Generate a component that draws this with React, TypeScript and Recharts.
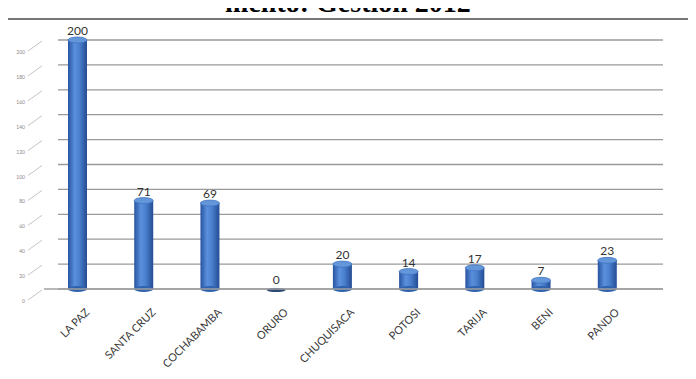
import { BarChart, Bar, XAxis, YAxis, CartesianGrid, LabelList } from "recharts";

const DEPARTAMENTOS = ["LA PAZ", "SANTA CRUZ", "COCHABAMBA", "ORURO", "CHUQUISACA", "POTOSI", "TARIJA", "BENI", "PANDO"];
const CASOS = [200, 71, 69, 0, 20, 14, 17, 7, 23];
const Y_TICKS = [0, 20, 40, 60, 80, 100, 120, 140, 160, 180, 200];

const data = DEPARTAMENTOS.map((d, i) => ({ name: d, value: CASOS[i] }));

// cylinder-ish bar like the old excel 3d look
function Cylinder(props: any) {
  const { x, y, width, height } = props;
  const cx = x + width / 2;
  const ry = 3;
  if (!height || height <= 0) {
    return <ellipse cx={cx} cy={y + 1} rx={width / 2} ry={2} fill="#2d4a75" />;
  }
  return (
    <g>
      <rect x={x} y={y} width={width} height={height} fill="url(#cyl)" />
      <ellipse cx={cx} cy={y + height} rx={width / 2} ry={ry} fill="#2f62ad" />
      <ellipse cx={cx} cy={y} rx={width / 2} ry={ry} fill="#6496da" stroke="#3f74c2" strokeWidth={0.8} />
    </g>
  );
}

function YTick(props: any) {
  const { x, y, payload } = props;
  return (
    <g>
      <line x1={x - 8} y1={y + 11} x2={x + 6} y2={y + 1} stroke="#b5b5b5" strokeWidth={0.8} />
      <text x={x - 11} y={y + 14} textAnchor="end" fontSize={5} fill="#888">
        {payload.value}
      </text>
    </g>
  );
}

function XTick(props: any) {
  const { x, y, payload } = props;
  const tx = x + 13;
  const ty = y + 16;
  return (
    <text x={tx} y={ty} textAnchor="end" fontSize={11} fill="#3a3a3a" transform={`rotate(-45 ${tx} ${ty})`}>
      {payload.value}
    </text>
  );
}

export default function App() {
  return (
    <div style={{ position: "relative", width: 696, height: 379, margin: -8, overflow: "hidden", background: "#fff" }}>
      <div
        style={{
          position: "absolute",
          left: 5,
          top: 18,
          width: 700,
          height: 380,
          borderLeft: "2px solid #8a8a8a",
          borderTop: "2px solid #777",
          boxShadow: "1px 1px 2px #ccc",
        }}
      />
      <div style={{ position: "absolute", left: 0, top: 0, fontFamily: "Lato, sans-serif" }}>
        <BarChart width={696} height={379} data={data} margin={{ top: 40, right: 33, bottom: 0, left: 0 }}>
          <defs>
            <linearGradient id="cyl" x1="0" y1="0" x2="1" y2="0">
              <stop offset="0%" stopColor="#2853a0" />
              <stop offset="35%" stopColor="#5a90dc" />
              <stop offset="60%" stopColor="#4a80ce" />
              <stop offset="100%" stopColor="#244c93" />
            </linearGradient>
          </defs>
          <CartesianGrid vertical={false} stroke="#9a9a9a" strokeWidth={1.3} x={58} width={605} />
          <XAxis
            dataKey="name"
            interval={0}
            tick={<XTick />}
            tickLine={false}
            axisLine={{ stroke: "#a0a0a0", strokeWidth: 1.5 }}
            height={90}
            padding={{ left: 0, right: 23 }}
          />
          <YAxis
            domain={[0, 200]}
            ticks={Y_TICKS}
            interval={0}
            width={44}
            tick={<YTick />}
            tickLine={false}
            axisLine={false}
          />
          <Bar dataKey="value" barSize={19} shape={<Cylinder />} isAnimationActive={false}>
            <LabelList dataKey="value" position="top" offset={5} fontSize={12} fill="#333" />
          </Bar>
        </BarChart>
      </div>
      <div
        style={{
          position: "absolute",
          top: -13,
          left: 0,
          width: 696,
          textAlign: "center",
          fontFamily: "'Liberation Serif', 'Times New Roman', serif",
          fontWeight: "bold",
          fontSize: 28,
          lineHeight: "31px",
          color: "#000",
          zIndex: 2,
        }}
      >
        mento: Gestión 2012
      </div>
    </div>
  );
}
